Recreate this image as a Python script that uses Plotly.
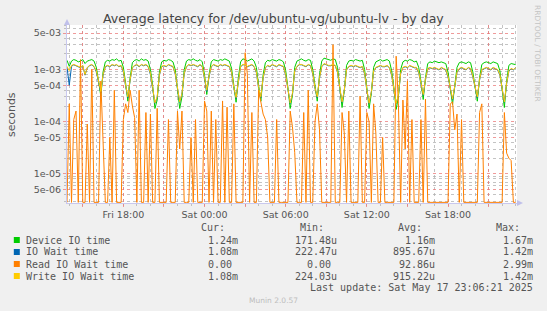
import plotly.graph_objects as go
from datetime import datetime, timedelta

# ---------------- data (microseconds, 10-minute samples) ----------------
START = datetime(2025, 5, 16, 13, 50)
STEP_MIN = 10

device_us = [
    1500, 1150, 1450, 1550, 1500, 1400, 1450, 1550, 1300, 1450, 1500, 1550,
    1450, 1100, 600, 308, 900, 1400, 1500, 1450, 1550, 1500, 1600, 1450,
    1500, 1100, 550, 247, 700, 1350, 1500, 1550, 1450, 1600, 1500, 1550,
    1450, 1000, 500, 179, 260, 900, 1400, 1500, 1450, 1550, 1500, 1400,
    1000, 450, 179, 300, 1000, 1450, 1550, 1500, 1600, 1500, 1450, 1550,
    1400, 800, 332, 800, 1400, 1550, 1500, 1450, 1550, 1500, 1600, 1500,
    1450, 1050, 500, 236, 700, 1400, 1600, 1550, 1450, 1500, 1600, 1450,
    1100, 500, 247, 800, 1350, 1500, 1450, 1550, 1500, 1450, 1550, 1500,
    1400, 950, 450, 179, 320, 1100, 1450, 1550, 1600, 1500, 1450, 1550,
    1500, 1000, 500, 247, 800, 1450, 1650, 1600, 1550, 1500, 1600, 1550,
    1100, 500, 187, 400, 1200, 1450, 1500, 1450, 1550, 1500, 1450, 1500,
    1000, 450, 179, 350, 1100, 1400, 1500, 1550, 1450, 1500, 1550, 1450,
    950, 450, 172, 300, 1000, 1400, 1500, 1450, 1550, 1500, 1400, 1450,
    1100, 600, 266, 700, 1300, 1400, 1350, 1450, 1400, 1350, 1400, 1350,
    1300, 900, 450, 214, 500, 1100, 1350, 1400, 1350, 1300, 1400, 1350,
    900, 500, 247, 700, 1250, 1350, 1400, 1350, 1300, 1400, 1350, 1300,
    950, 450, 187, 600, 1200, 1300, 1250, 1240,
]

iowait_us = [
    1120, 500, 1150, 1230, 1180, 1120, 1080, 1180, 780, 1080, 1180, 1230,
    1130, 900, 520, 360, 780, 1130, 1180, 1130, 1230, 1180, 1230, 1130,
    1180, 900, 480, 290, 630, 1080, 1180, 1230, 1130, 1230, 1180, 1230,
    1130, 800, 420, 225, 290, 780, 1130, 1180, 1130, 1230, 1180, 1130,
    820, 400, 235, 340, 830, 1130, 1230, 1180, 1230, 1180, 1130, 1230,
    1130, 650, 380, 720, 1130, 1230, 1180, 1130, 1230, 1180, 1230, 1180,
    1130, 870, 430, 280, 630, 1130, 1230, 1230, 1130, 1180, 1230, 1130,
    870, 430, 290, 680, 1080, 1180, 1130, 1230, 1180, 1130, 1230, 1180,
    1130, 770, 400, 224, 340, 930, 1130, 1230, 1230, 1180, 1130, 1230,
    1180, 820, 430, 290, 680, 1130, 1280, 1230, 1180, 1180, 1230, 1180,
    870, 430, 235, 390, 980, 1130, 1180, 1130, 1180, 1130, 1080, 1130,
    820, 400, 223, 370, 930, 1080, 1130, 1180, 1130, 1130, 1180, 1080,
    770, 380, 222, 320, 830, 1080, 1130, 1080, 1180, 1130, 1080, 1080,
    870, 520, 320, 630, 1030, 1080, 1030, 1080, 1030, 980, 1080, 1030,
    980, 720, 400, 260, 460, 880, 1030, 1080, 1030, 980, 1080, 1030,
    720, 430, 290, 630, 980, 1030, 1080, 1030, 980, 1080, 1030, 980,
    780, 400, 235, 530, 930, 1030, 980, 1080,
]

read_us = [
    0, 220, 0, 110, 160, 0, 1550, 0, 0, 90, 0, 1000,
    0, 0, 0, 600, 50, 0, 0, 50, 0, 400, 0, 0,
    0, 110, 220, 150, 400, 200, 120, 0, 400, 0, 0, 150,
    0, 140, 0, 0, 180, 0, 0, 0, 0, 110, 0, 0,
    0, 160, 30, 160, 0, 0, 0, 50, 0, 110, 0, 0,
    0, 250, 160, 0, 160, 0, 110, 0, 0, 250, 0, 190,
    0, 0, 220, 0, 0, 0, 0, 2100, 800, 0, 150, 0,
    0, 400, 250, 140, 110, 50, 0, 0, 0, 110, 0, 0,
    0, 0, 0, 160, 80, 26, 0, 0, 0, 150, 0, 400,
    0, 0, 100, 220, 70, 0, 0, 0, 0, 0, 2990, 0,
    0, 0, 150, 60, 0, 160, 0, 0, 0, 0, 310, 0,
    0, 150, 100, 0, 220, 60, 0, 0, 50, 0, 0, 0,
    0, 0, 1800, 220, 0, 260, 30, 600, 0, 110, 0, 0,
    0, 110, 0, 270, 0, 0, 0, 0, 0, 0, 0, 0,
    0, 0, 220, 240, 70, 140, 0, 110, 0, 0, 0, 0,
    0, 0, 0, 150, 220, 0, 0, 0, 0, 0, 0, 0,
    0, 0, 150, 25, 20, 18, 0, 0,
]

write_us = [
    1150, 950, 1200, 1250, 1200, 1150, 1100, 1200, 800, 1100, 1200, 1250,
    1150, 950, 550, 380, 800, 1150, 1200, 1150, 1250, 1200, 1250, 1150,
    1200, 950, 500, 300, 650, 1100, 1200, 1250, 1150, 1250, 1200, 1250,
    1150, 850, 450, 230, 300, 800, 1150, 1200, 1150, 1250, 1200, 1150,
    850, 420, 240, 350, 850, 1150, 1250, 1200, 1250, 1200, 1150, 1250,
    1150, 700, 400, 750, 1150, 1250, 1200, 1150, 1250, 1200, 1250, 1200,
    1150, 900, 450, 290, 650, 1150, 1250, 1250, 1150, 1200, 1250, 1150,
    900, 450, 300, 700, 1100, 1200, 1150, 1250, 1200, 1150, 1250, 1200,
    1150, 800, 420, 228, 350, 950, 1150, 1250, 1250, 1200, 1150, 1250,
    1200, 850, 450, 300, 700, 1150, 1300, 1250, 1200, 1200, 1250, 1200,
    900, 450, 240, 400, 1000, 1150, 1200, 1150, 1200, 1150, 1100, 1150,
    850, 420, 226, 380, 950, 1100, 1150, 1200, 1150, 1150, 1200, 1100,
    800, 400, 224, 330, 850, 1100, 1150, 1100, 1200, 1150, 1100, 1100,
    900, 550, 330, 650, 1050, 1100, 1050, 1100, 1050, 1000, 1100, 1050,
    1000, 750, 420, 270, 480, 900, 1050, 1100, 1050, 1000, 1100, 1050,
    750, 450, 300, 650, 1000, 1050, 1100, 1050, 1000, 1100, 1050, 1000,
    800, 420, 240, 550, 950, 1050, 1000, 1080,
]

series_names = ["Device IO time", "IO Wait time", "Read IO Wait time", "Write IO Wait time"]
series_colors = ["#00CC00", "#0066B3", "#FF8000", "#FFCC00"]
cur_vals = ["1.24m", "1.08m", "0.00", "1.08m"]
min_vals = ["171.48u", "222.47u", "0.00", "224.03u"]
avg_vals = ["1.16m", "895.67u", "92.86u", "915.22u"]
max_vals = ["1.67m", "1.42m", "2.99m", "1.42m"]

x_tick_times = ["2025-05-16 15:00", "2025-05-16 18:00", "2025-05-16 21:00",
                "2025-05-17 00:00", "2025-05-17 03:00", "2025-05-17 06:00",
                "2025-05-17 09:00", "2025-05-17 12:00", "2025-05-17 15:00",
                "2025-05-17 18:00", "2025-05-17 21:00"]
x_tick_labels = ["", "Fri 18:00", "", "Sat 00:00", "", "Sat 06:00", "",
                 "Sat 12:00", "", "Sat 18:00", ""]
y_tick_vals = [5e-6, 1e-5, 5e-5, 1e-4, 5e-4, 1e-3, 5e-3]
y_tick_labels = ["5e-06", "1e-05", "5e-05", "1e-04", "5e-04", "1e-03", "5e-03"]

# ---------------- layout geometry ----------------
W, H = 547, 311
L, R, T, B = 67, 30, 25, 108
PW, PH = W - L - R, H - T - B
X_RANGE = ["2025-05-16 13:50", "2025-05-17 23:06"]
Y_RANGE = [-5.557, -2.1475]
FLOOR = 10 ** (Y_RANGE[0] + 0.012)


def px(xp):
    return (xp - L) / PW


def py(yp):
    return (H - B - yp) / PH


times = [START + timedelta(minutes=STEP_MIN * i) for i in range(len(device_us))]


def to_sec(vals):
    return [v * 1e-6 if v > 0 else FLOOR for v in vals]


fig = go.Figure()
for name, vals, col in [(series_names[0], device_us, series_colors[0]),
                        (series_names[1], iowait_us, series_colors[1]),
                        (series_names[2], read_us, series_colors[2]),
                        (series_names[3], write_us, series_colors[3])]:
    fig.add_trace(go.Scatter(x=times, y=to_sec(vals), mode="lines", name=name,
                             line=dict(color=col, width=1), hoverinfo="skip"))

major_grid = "rgba(235,120,120,0.75)"
minor_grid = "rgba(175,175,175,0.75)"
axis_col = "#C8C8EE"

minor_y = []
for dec in [1e-6, 1e-5, 1e-4, 1e-3]:
    for m in [2, 3, 4, 6, 7, 8, 9]:
        minor_y.append(m * dec)

fig.update_layout(
    width=W, height=H,
    margin=dict(l=L, r=R, t=T, b=B, pad=0),
    paper_bgcolor="#F0F0F0", plot_bgcolor="#FFFFFF",
    showlegend=False,
    font=dict(family="DejaVu Sans", color="#555555"),
    xaxis=dict(
        type="date", range=X_RANGE,
        tickmode="array", tickvals=x_tick_times, ticktext=x_tick_labels,
        tickfont=dict(family="DejaVu Sans", size=9.5, color="#555555"),
        showgrid=True, gridcolor=major_grid, griddash="dot", gridwidth=1,
        ticks="outside", ticklen=3, tickcolor=major_grid, tickwidth=1,
        showline=True, linecolor=axis_col, linewidth=1, zeroline=False,
        minor=dict(dtick=3600000, tick0="2025-05-16 00:00", showgrid=True,
                   gridcolor=minor_grid, griddash="dot", gridwidth=1,
                   ticks="outside", ticklen=2, tickcolor=minor_grid),
    ),
    yaxis=dict(
        type="log", range=Y_RANGE,
        tickmode="array", tickvals=y_tick_vals, ticktext=y_tick_labels,
        tickfont=dict(family="DejaVu Sans", size=9.5, color="#555555"),
        showgrid=True, gridcolor=major_grid, griddash="dot", gridwidth=1,
        ticks="outside", ticklen=3, tickcolor=major_grid, tickwidth=1,
        showline=True, linecolor=axis_col, linewidth=1, zeroline=False,
        minor=dict(tickmode="array", tickvals=minor_y, showgrid=True,
                   gridcolor=minor_grid, griddash="dot", gridwidth=1,
                   ticks="outside", ticklen=2, tickcolor=minor_grid),
    ),
)

ann = []


def text(x, y, s, size, color="#555555", family="DejaVu Sans", xanchor="left",
         angle=0):
    ann.append(dict(x=px(x), y=py(y), xref="paper", yref="paper", text=s,
                    showarrow=False, xanchor=xanchor, yanchor="middle",
                    textangle=angle, borderpad=0, borderwidth=0,
                    font=dict(family=family, size=size, color=color)))


# title, axis title, watermark
text(273, 19, "Average latency for /dev/ubuntu-vg/ubuntu-lv - by day", 12.5,
     color="#444444", xanchor="center")
text(11, 115, "seconds", 10.9, xanchor="center", angle=-90)
text(538, 53, "RRDTOOL / TOBI OETIKER", 7.5, color="#C4C4C4", xanchor="center",
     angle=90)

# legend
MONO = "DejaVu Sans Mono"
CH = 6.02
hdr_y = 227.7
text(225, hdr_y, "Cur:", 10, family=MONO, xanchor="right")
text(324, hdr_y, "Min:", 10, family=MONO, xanchor="right")
text(422, hdr_y, "Avg:", 10, family=MONO, xanchor="right")
text(520, hdr_y, "Max:", 10, family=MONO, xanchor="right")
col_ends = [238, 336.6, 435, 533]
shapes = []
for k, name in enumerate(series_names):
    ry = 240 + 12 * k
    shapes.append(dict(type="rect", xref="paper", yref="paper",
                       x0=px(13.8), x1=px(19.8), y0=py(ry + 3), y1=py(ry - 3),
                       fillcolor=series_colors[k], line=dict(width=0)))
    text(26.2, ry, name, 10, family=MONO)
    for ce, vals in zip(col_ends, [cur_vals, min_vals, avg_vals, max_vals]):
        v = vals[k]
        end = ce if v[-1].isalpha() else ce - CH
        text(end, ry, v, 10, family=MONO, xanchor="right")

text(533, 287.7, "Last update: Sat May 17 23:06:21 2025", 10, family=MONO,
     xanchor="right")
text(273, 300, "Munin 2.0.57", 7.5, color="#BDBDBD", xanchor="center")

# axis arrows
arrow_col = "#C0C0EA"
shapes.append(dict(type="path", xref="paper", yref="paper",
                   path=f"M {px(64)},{py(25)} L {px(70)},{py(25)} L {px(67)},{py(19)} Z",
                   fillcolor=arrow_col, line=dict(width=0)))
shapes.append(dict(type="path", xref="paper", yref="paper",
                   path=f"M {px(517)},{py(200)} L {px(517)},{py(206)} L {px(523)},{py(203)} Z",
                   fillcolor=arrow_col, line=dict(width=0)))

fig.update_layout(annotations=ann, shapes=shapes)
fig.write_html("out.html")
